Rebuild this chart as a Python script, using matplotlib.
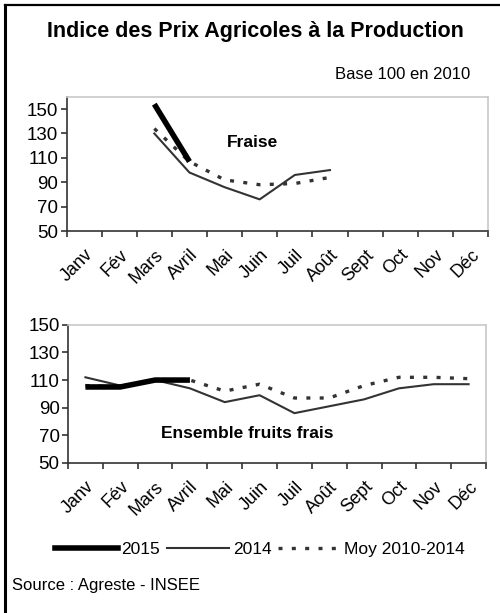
import matplotlib
matplotlib.use("Agg")
import matplotlib.pyplot as plt
import matplotlib.transforms as mtransforms
from matplotlib.lines import Line2D
import numpy as np

plt.rcParams['font.family'] = ['Liberation Sans', 'DejaVu Sans']

mois = ['Janv', 'Fév', 'Mars', 'Avril', 'Mai', 'Juin', 'Juil', 'Août', 'Sept', 'Oct', 'Nov', 'Déc']

# Fraise (nan = pas de valeur)
fraise_2015 = [np.nan, np.nan, 154, 107, np.nan, np.nan, np.nan, np.nan, np.nan, np.nan, np.nan, np.nan]
fraise_2014 = [np.nan, np.nan, 130, 98, 86, 76, 96, 100, np.nan, np.nan, np.nan, np.nan]
fraise_moy = [np.nan, np.nan, 134, 107, 92, 88, 89, 94, np.nan, np.nan, np.nan, np.nan]

# Ensemble fruits frais
fruits_2015 = [105, 105, 110, 110, np.nan, np.nan, np.nan, np.nan, np.nan, np.nan, np.nan, np.nan]
fruits_2014 = [112, 106, 110, 104, 94, 99, 86, 91, 96, 104, 107, 107]
fruits_moy = [106, 105, 110, 110, 102, 107, 97, 97, 106, 112, 112, 111]

c_line = '#333333'
moy_style = dict(color=c_line, lw=2.4, linestyle=(0, (1.2, 2.8)), dash_capstyle='butt')

fig = plt.figure(figsize=(5, 6.13), dpi=100)

# cadre
fig.add_artist(Line2D([0.01, 0.01], [-0.1, 0.992], color='black', lw=2.2, transform=fig.transFigure))
fig.add_artist(Line2D([0.01, 1.1], [0.992, 0.992], color='black', lw=1.6, transform=fig.transFigure))

fig.text(0.51, 0.948, 'Indice des Prix Agricoles à la Production', ha='center', va='center',
         fontsize=15.5, fontweight='bold')
fig.text(0.94, 0.878, 'Base 100 en 2010', ha='right', va='center', fontsize=12)

# decalage des etiquettes de mois (vers la gauche)
shift = mtransforms.ScaledTranslation(-8 / 100, 0, fig.dpi_scale_trans)


def draw_panel(ax, y15, y14, ymoy, ylim, label, lx, ly):
    x = np.arange(len(mois))
    ax.plot(x, ymoy, **moy_style)
    ax.plot(x, y14, color=c_line, lw=1.5)
    ax.plot(x, y15, color='black', lw=4, solid_capstyle='butt')
    ax.set_xlim(-0.5, 11.5)
    ax.set_ylim(*ylim)
    ax.set_yticks(np.arange(50, 151, 20))
    ax.set_xticks(np.arange(-0.5, 12, 1))
    ax.set_xticklabels([])
    ax.set_xticks(x, minor=True)
    ax.set_xticklabels(mois, minor=True, rotation=45, ha='right', va='top', rotation_mode='anchor')
    for t in ax.get_xticklabels(minor=True):
        t.set_transform(t.get_transform() + shift)
    ax.tick_params(axis='x', which='minor', length=0, pad=11, labelsize=13)
    ax.tick_params(axis='x', which='major', length=4, width=1.2, color=c_line)
    ax.tick_params(axis='y', length=4, width=1.2, color=c_line, labelsize=13.5, pad=2)
    for s in ['top', 'right']:
        ax.spines[s].set_color('#c8c8c8')
        ax.spines[s].set_linewidth(1.2)
    for s in ['left', 'bottom']:
        ax.spines[s].set_color(c_line)
        ax.spines[s].set_linewidth(1.2)
    ax.text(lx, ly, label, fontsize=12.5, fontweight='bold', ha='center', va='center')


ax1 = fig.add_axes([0.133, 0.623, 0.843, 0.219])
draw_panel(ax1, fraise_2015, fraise_2014, fraise_moy, (50, 160), 'Fraise', 4.8, 123)

ax2 = fig.add_axes([0.136, 0.245, 0.836, 0.225])
draw_panel(ax2, fruits_2015, fruits_2014, fruits_moy, (50, 150), 'Ensemble fruits frais', 4.65, 71)

handles = [Line2D([], [], color='black', lw=4),
           Line2D([], [], color=c_line, lw=1.5),
           Line2D([], [], **moy_style)]
fig.legend(handles, ['2015', '2014', 'Moy 2010-2014'], loc='center', bbox_to_anchor=(0.52, 0.103),
           ncol=3, frameon=False, fontsize=12.5, handlelength=3.6, handletextpad=0.2, columnspacing=0.4)

fig.text(0.025, 0.045, 'Source : Agreste - INSEE', ha='left', va='center', fontsize=12)

fig.savefig('out.png', dpi=100, facecolor='white')
